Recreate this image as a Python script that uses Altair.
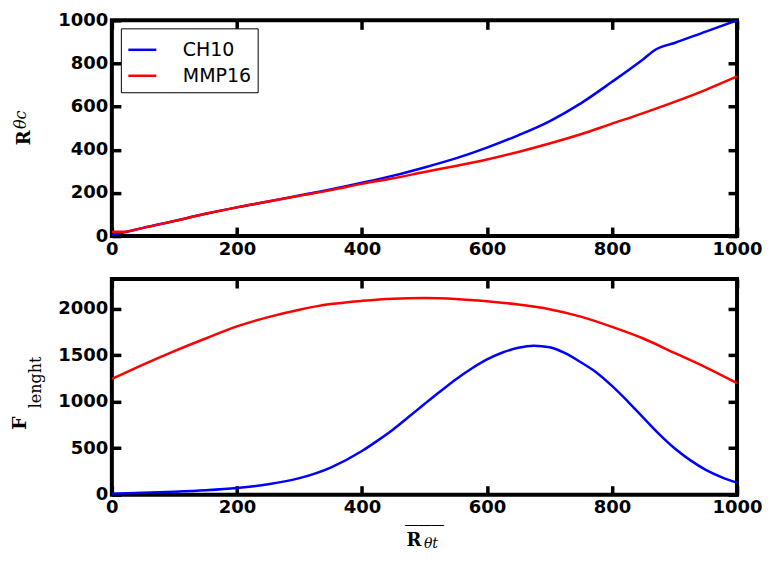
import altair as alt
import pandas as pd

series_names = ["CH10", "MMP16"]
series_colors = ["#0000ff", "#ff0000"]

# top panel
x_ch10_top = [0, 20, 50, 100, 150, 200, 250, 300, 350, 400, 450, 500, 550, 600, 650, 700, 750, 800, 850, 870, 900, 950, 1000]
ch10_top = [5, 17, 38, 70, 103, 133, 160, 188, 216, 247, 280, 318, 360, 410, 467, 532, 615, 715, 820, 865, 895, 948, 1000]
x_mmp16_top = [0, 20, 50, 100, 150, 200, 250, 300, 350, 400, 450, 500, 550, 600, 650, 700, 750, 800, 850, 900, 950, 1000]
mmp16_top = [20, 20, 38, 70, 103, 133, 160, 187, 213, 242, 268, 297, 325, 355, 390, 429, 472, 521, 570, 622, 678, 740]

# bottom panel
x_ch10_bottom = [0, 50, 100, 150, 200, 250, 300, 350, 400, 425, 450, 475, 500, 525, 550, 575, 600, 625, 650, 675,
                 700, 725, 750, 775, 800, 825, 850, 875, 900, 925, 950, 975, 1000]
ch10_bottom = [10, 20, 32, 48, 72, 112, 178, 292, 470, 582, 702, 838, 975, 1110, 1240, 1355, 1455, 1530, 1580, 1602,
               1585, 1522, 1425, 1315, 1170, 1005, 830, 655, 500, 372, 268, 190, 130]
x_mmp16_bottom = [0, 50, 100, 150, 200, 250, 300, 350, 400, 450, 500, 550, 600, 650, 700, 750, 800, 850, 900, 950, 1000]
mmp16_bottom = [1245, 1400, 1545, 1680, 1810, 1910, 1990, 2050, 2085, 2108, 2115, 2105, 2080, 2045, 1995, 1915, 1805,
                1680, 1525, 1370, 1200]

x_ticks = [0, 200, 400, 600, 800, 1000]
top_y_ticks = [0, 200, 400, 600, 800, 1000]
bottom_y_ticks = [0, 500, 1000, 1500, 2000]
x_domain = [0, 1000]
top_y_domain = [0, 1000]
bottom_y_domain = [0, 2320]


def long_frame(xa, a, xb, b):
    return pd.DataFrame({
        "x": list(xa) + list(xb),
        "y": list(a) + list(b),
        "series": [series_names[0]] * len(xa) + [series_names[1]] * len(xb),
    })


df_top = long_frame(x_ch10_top, ch10_top, x_mmp16_top, mmp16_top)
df_bottom = long_frame(x_ch10_bottom, ch10_bottom, x_mmp16_bottom, mmp16_bottom)

TICK = dict(domain=False, grid=False, ticks=True, tickSize=9, tickWidth=3.5,
            tickColor="black", offset=-9)


def label_axis(orient, values):
    return alt.Axis(orient=orient, values=values, format="d", labels=True, labelFont="DejaVu Sans",
                    labelFontWeight="bold", labelFontSize=18, labelColor="black",
                    labelPadding=4, labelFlush=False, labelOverlap=False, **TICK)


def tick_axis(orient, values):
    return alt.Axis(orient=orient, values=values, labels=False, **TICK)


def title_axis(orient, text, x, y, size, weight="normal", style="normal", angle=0,
               font="DejaVu Serif", baseline="middle"):
    return alt.Axis(orient=orient, domain=False, grid=False, ticks=False, labels=False,
                    title=text, titleX=x, titleY=y, titleAngle=angle, titleAlign="center",
                    titleBaseline=baseline, titleFont=font, titleFontSize=size,
                    titleFontWeight=weight, titleFontStyle=style, titleColor="black")


def line_layer(df, ydom, xaxis, yaxis, visible=False, legend=None, titled=False):
    mark = alt.Chart(df).mark_line(strokeWidth=2.5, interpolate="monotone", clip=True,
                                   opacity=1 if visible else 0)
    xs = alt.Scale(domain=x_domain, nice=False, zero=False)
    ys = alt.Scale(domain=ydom, nice=False, zero=False)
    if titled:
        xenc = alt.X("x:Q", scale=xs, axis=xaxis)
        yenc = alt.Y("y:Q", scale=ys, axis=yaxis)
    else:
        xenc = alt.X("x:Q", scale=xs, axis=xaxis, title=None)
        yenc = alt.Y("y:Q", scale=ys, axis=yaxis, title=None)
    if visible:
        return mark.encode(
            x=xenc, y=yenc,
            color=alt.Color("series:N", title=None,
                            scale=alt.Scale(domain=series_names, range=series_colors),
                            legend=legend),
        )
    return mark.encode(x=xenc, y=yenc, detail="series:N")


legend_top = alt.Legend(orient="none", legendX=9, legendY=8, symbolType="stroke",
                        symbolSize=784, symbolStrokeWidth=2.5, labelFont="DejaVu Sans",
                        labelFontSize=19, labelColor="black", labelOffset=25, rowPadding=0,
                        padding=6, strokeColor="black", fillColor="white")

W, H = 626, 216

top = alt.layer(
    line_layer(df_top, top_y_domain, label_axis("bottom", x_ticks), label_axis("left", top_y_ticks),
               visible=True, legend=legend_top),
    line_layer(df_top, top_y_domain, tick_axis("top", x_ticks), tick_axis("right", top_y_ticks)),
    line_layer(df_top, top_y_domain, None,
               title_axis("left", "R", -87.5, 117, 18, weight="bold", angle=270), titled=True),
    line_layer(df_top, top_y_domain, None,
               title_axis("left", "θc", -91, 99, 16, style="italic", angle=270), titled=True),
).resolve_axis(x="independent", y="independent").properties(width=W, height=H)

bottom = alt.layer(
    line_layer(df_bottom, bottom_y_domain, label_axis("bottom", x_ticks),
               label_axis("left", bottom_y_ticks), visible=True, legend=None),
    line_layer(df_bottom, bottom_y_domain, tick_axis("top", x_ticks),
               tick_axis("right", bottom_y_ticks)),
    line_layer(df_bottom, bottom_y_domain,
               title_axis("bottom", "R", 302, 46, 18, weight="bold"),
               title_axis("left", "F", -92, 144, 19, weight="bold", angle=270), titled=True),
    line_layer(df_bottom, bottom_y_domain,
               title_axis("bottom", "θt", 319, 49, 14, style="italic"),
               title_axis("left", "lenght", -76, 103, 16, angle=270), titled=True),
    line_layer(df_bottom, bottom_y_domain,
               title_axis("bottom", "___", 312.5, 25, 26, baseline="alphabetic"),
               None, titled=True),
).resolve_axis(x="independent", y="independent").properties(width=W, height=H)

chart = alt.vconcat(top, bottom, spacing=15).resolve_legend(color="independent").properties(
    padding={"left": 1, "top": 1, "right": 0, "bottom": 0}, background="white"
).configure_view(stroke="black", strokeWidth=4)

chart.save("out.html", embed_options={"renderer": "svg", "actions": False})
